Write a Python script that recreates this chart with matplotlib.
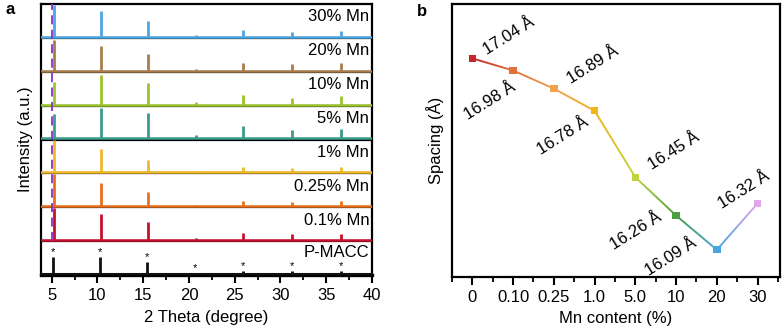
"""XRD patterns of Mn-doped P-MACC (a) and interlayer spacing vs Mn content (b)."""

import numpy as np
import matplotlib
matplotlib.use("Agg")
import matplotlib.pyplot as plt
from matplotlib.colors import LinearSegmentedColormap
from matplotlib.patches import Polygon
from matplotlib.ticker import MultipleLocator

plt.rcParams["font.family"] = ["Liberation Sans", "DejaVu Sans"]
plt.rcParams["font.size"] = 12

# ---- panel a data: peak positions (2 theta) and relative heights per sample
peaks_mn = [5.25, 10.35, 15.5, 20.75, 25.95, 31.25, 36.65]
peaks_ref = [5.1, 10.3, 15.45, 20.7, 25.9, 31.25, 36.65]

samples = ["P-MACC", "0.1% Mn", "0.25% Mn", "1% Mn", "5% Mn", "10% Mn", "20% Mn", "30% Mn"]
sample_colors = ["#111111", "#c8102e", "#e8701c", "#f0b828", "#3a9c8c", "#9cc42c", "#a87c4c", "#4da6e0"]
heights = [
    [0.53, 0.53, 0.38, 0.03, 0.08, 0.08, 0.08],   # P-MACC
    [1.00, 0.82, 0.56, 0.08, 0.23, 0.18, 0.20],   # 0.1%
    [1.00, 0.72, 0.45, 0.04, 0.17, 0.13, 0.15],   # 0.25%
    [1.00, 0.73, 0.38, 0.03, 0.18, 0.15, 0.18],   # 1%
    [0.75, 0.95, 0.78, 0.12, 0.38, 0.27, 0.30],   # 5%
    [0.70, 0.92, 0.68, 0.08, 0.30, 0.22, 0.26],   # 10%
    [0.95, 0.78, 0.53, 0.05, 0.25, 0.20, 0.25],   # 20%
    [1.00, 0.80, 0.50, 0.05, 0.20, 0.15, 0.18],   # 30%
]
dashed_pos = 5.05

# ---- panel b data
mn_labels = ["0", "0.10", "0.25", "1.0", "5.0", "10", "20", "30"]
spacing = [17.04, 16.98, 16.89, 16.78, 16.45, 16.26, 16.09, 16.32]
point_colors = ["#c4262c", "#e2703c", "#f2a24e", "#f0b41c", "#c2d43c", "#4a9e3e", "#46a6e0", "#e2a6ea"]
label_offsets = [(26, 16), (-17, -22), (28, 17), (-23, -18), (28, 19), (-29, -11), (-33, -5), (-10, 10)]

fig = plt.figure(figsize=(7.82, 3.30), dpi=100)

# ===================== panel a =====================
ax = fig.add_axes([41 / 782, 55 / 330, 331 / 782, 271 / 330])
n = len(samples)
for i in range(n):
    base = i
    col = sample_colors[i]
    if i > 0:
        ax.axhline(base, color="black", lw=1.6, zorder=2)
        ax.axhline(base + 0.03, color=col, lw=1.8, zorder=3)
        pos = peaks_mn
        ty = base + 0.62
    else:
        ax.axhline(base + 0.03, color=col, lw=2.2, zorder=3)
        pos = peaks_ref
        ty = base + 0.67
    tops = [base + 0.03 + h * 0.95 for h in heights[i]]
    ax.vlines(pos, base + 0.03, tops, color=col, lw=2.0, zorder=4)
    ax.text(39.7, ty, samples[i], ha="right", va="center", fontsize=12, zorder=5)
    if i == 0:
        for p, t in zip(pos, tops):
            ax.text(p, t, "*", ha="center", va="bottom", fontsize=8, zorder=5)

ax.vlines(dashed_pos, 1, n, color="#8b2fc9", lw=1.3, linestyles=(0, (5, 3)), zorder=6)

ax.set_xlim(3.83, 40)
ax.set_ylim(0, n)
ax.set_yticks([])
ax.xaxis.set_major_locator(MultipleLocator(5))
ax.xaxis.set_minor_locator(MultipleLocator(2.5))
ax.tick_params(axis="x", which="major", direction="out", length=6, width=1.5, labelsize=12)
ax.tick_params(axis="x", which="minor", direction="out", length=3.5, width=1.3)
for s in ax.spines.values():
    s.set_linewidth(1.6)
ax.spines["bottom"].set_linewidth(2.4)
ax.set_xlabel("2 Theta (degree)", fontsize=12, labelpad=5)
ax.set_ylabel("Intensity (a.u.)", fontsize=12, labelpad=6)
fig.text(5 / 782, 1 - 10 / 330, "a", fontsize=12, fontweight="bold", va="center")

# ===================== panel b =====================
bx = fig.add_axes([452 / 782, 53 / 330, 328 / 782, 273 / 330])
xs = np.arange(len(spacing))
ylo, yhi = 15.955, 17.31
bx.set_xlim(-0.5, 7.55)
bx.set_ylim(ylo, yhi)

# gradient coloured line: a colour ramp clipped to the stroke outline of the line
pts = bx.transData.transform(np.column_stack([xs, spacing]))
seg = np.diff(pts, axis=0)
seg /= np.linalg.norm(seg, axis=1)[:, None]
nrm = np.column_stack([-seg[:, 1], seg[:, 0]])
vn = np.vstack([nrm[0], nrm[:-1] + nrm[1:], nrm[-1]])
vn /= np.linalg.norm(vn, axis=1)[:, None]
cosang = np.abs(np.sum(vn * np.vstack([nrm, nrm[-1]]), axis=1))
half_w = 0.95 / np.clip(cosang, 0.3, 1)
outline = np.vstack([pts + vn * half_w[:, None], (pts - vn * half_w[:, None])[::-1]])
outline = bx.transData.inverted().transform(outline)
clip = Polygon(outline, closed=True, transform=bx.transData, facecolor="none", edgecolor="none")
bx.add_patch(clip)

cmap = LinearSegmentedColormap.from_list("ramp", list(zip(xs / xs[-1], point_colors)))
ramp = np.linspace(0, 1, 256).reshape(1, -1)
img = bx.imshow(ramp, cmap=cmap, aspect="auto", extent=(0, 7, ylo, yhi),
                zorder=3, interpolation="bilinear")
img.set_clip_path(clip)
bx.set_xlim(-0.5, 7.55)
bx.set_ylim(ylo, yhi)

bx.scatter(xs, spacing, marker="s", s=28, c=point_colors, zorder=5, linewidths=0)

for x, y, (dx, dy) in zip(xs, spacing, label_offsets):
    bx.annotate(f"{y:.2f} Å", (x, y), xytext=(dx, dy), textcoords="offset points",
                rotation=32, ha="center", va="center", rotation_mode="anchor",
                fontsize=12, zorder=6)

bx.set_xticks(xs)
bx.set_xticklabels(mn_labels)
bx.xaxis.set_minor_locator(MultipleLocator(0.5))
bx.set_yticks([])
bx.tick_params(axis="x", which="major", direction="out", length=6, width=1.5, labelsize=12)
bx.tick_params(axis="x", which="minor", direction="out", length=3.5, width=1.3)
for s in bx.spines.values():
    s.set_linewidth(1.6)
bx.set_xlabel("Mn content (%)", fontsize=12, labelpad=4)
bx.set_ylabel("Spacing (Å)", fontsize=12, labelpad=6)
fig.text(417 / 782, 1 - 12 / 330, "b", fontsize=12, fontweight="bold", va="center")

fig.savefig("out.png", dpi=100)
